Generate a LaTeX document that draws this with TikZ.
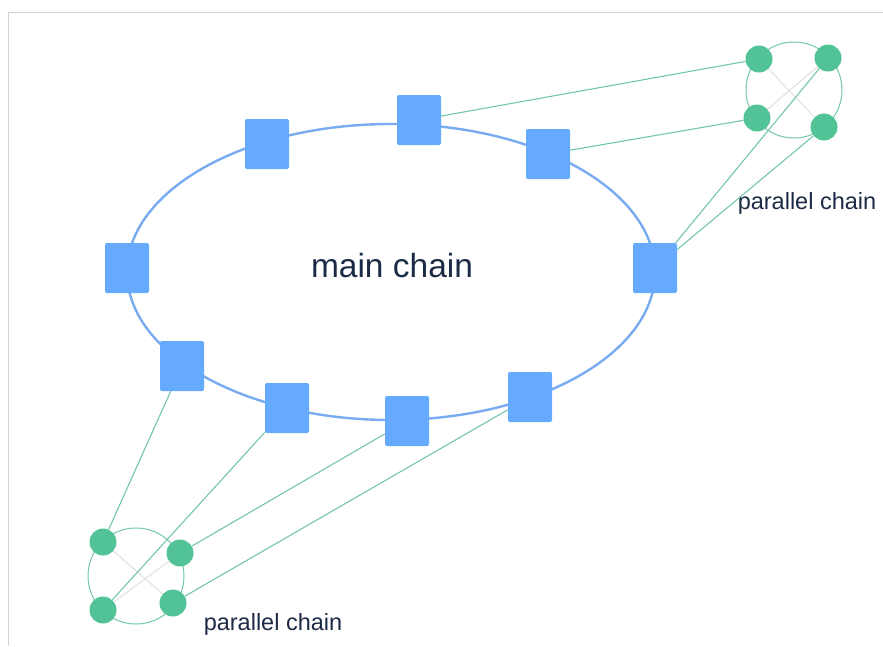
\documentclass[tikz,border=0pt]{standalone}
\usepackage{fontspec}
\setmainfont{Liberation Sans}
\usetikzlibrary{positioning}

\definecolor{chainblue}{HTML}{65AAFC}
\definecolor{ringblue}{HTML}{79ABF0}
\definecolor{peergreen}{HTML}{52C297}
\definecolor{linkgreen}{HTML}{74C7A6}
\definecolor{labelnavy}{HTML}{1C2B45}

\begin{document}
\begin{tikzpicture}
  [x=1pt, y=-1pt,
   block/.style = {rectangle, fill=chainblue, minimum width=44pt, minimum height=50pt,
                   rounded corners=2pt, inner sep=0pt},
   peer/.style = {circle, fill=peergreen, minimum size=27pt, inner sep=0pt},
   ring/.style = {circle, draw=linkgreen, line width=1pt, minimum size=96pt, inner sep=0pt},
   link/.style = {draw=linkgreen, line width=1.1pt},
   cross/.style = {draw=black!12, line width=1pt},
   caption/.style = {text=labelnavy, inner sep=0pt}]
  \useasboundingbox (0,0) rectangle (883,646);
  \draw [black!18, line width=1pt] (8.5,646) -- (8.5,12) -- (883,12);

  % main chain
  \draw [ringblue, line width=2.4pt] (391,272) ellipse [x radius=264pt, y radius=148pt];
  \node [block] (m1) at (267,144) {};
  \node [block] (m2) at (419,120) {};
  \node [block] (m3) at (548,154) {};
  \node [block] (m4) at (127,268) {};
  \node [block] (m5) at (655,268) {};
  \node [block] (m6) at (182,366) {};
  \node [block] (m7) at (287,408) {};
  \node [block] (m8) at (407,421) {};
  \node [block] (m9) at (530,397) {};
  \node [caption, font=\fontsize{33.5}{40}\selectfont] (main) at (392,266) {main chain};

  % parallel chain, top right
  \node [ring] (ringa) at (794,90) {};
  \node [peer] (pa1) at (759,59) {};
  \node [peer] (pa2) at (828,58) {};
  \node [peer] (pa3) at (757,118) {};
  \node [peer] (pa4) at (824,127) {};
  \node [caption, font=\fontsize{23.5}{28}\selectfont] (para) at (807,203) {parallel chain};

  % parallel chain, bottom left
  \node [ring] (ringb) at (136,576) {};
  \node [peer] (pb1) at (103,542) {};
  \node [peer] (pb2) at (180,553) {};
  \node [peer] (pb3) at (103,610) {};
  \node [peer] (pb4) at (173,603) {};
  \node [caption, font=\fontsize{23.5}{28}\selectfont] (parb) at (273,624) {parallel chain};

  \draw [cross] (pa1) -- (pa4);
  \draw [cross] (pa2) -- (pa3);
  \draw [cross] (pb1) -- (pb4);
  \draw [cross] (pb2) -- (pb3);

  \draw [link] (m2) -- (pa1);
  \draw [link] (m3) -- (pa3);
  \draw [link] (m5) -- (pa2);
  \draw [link] (m5) -- (pa4);

  \draw [link] (m6) -- (pb1);
  \draw [link] (m7) -- (pb3);
  \draw [link] (m8) -- (pb2);
  \draw [link] (m9) -- (pb4);
\end{tikzpicture}
\end{document}
